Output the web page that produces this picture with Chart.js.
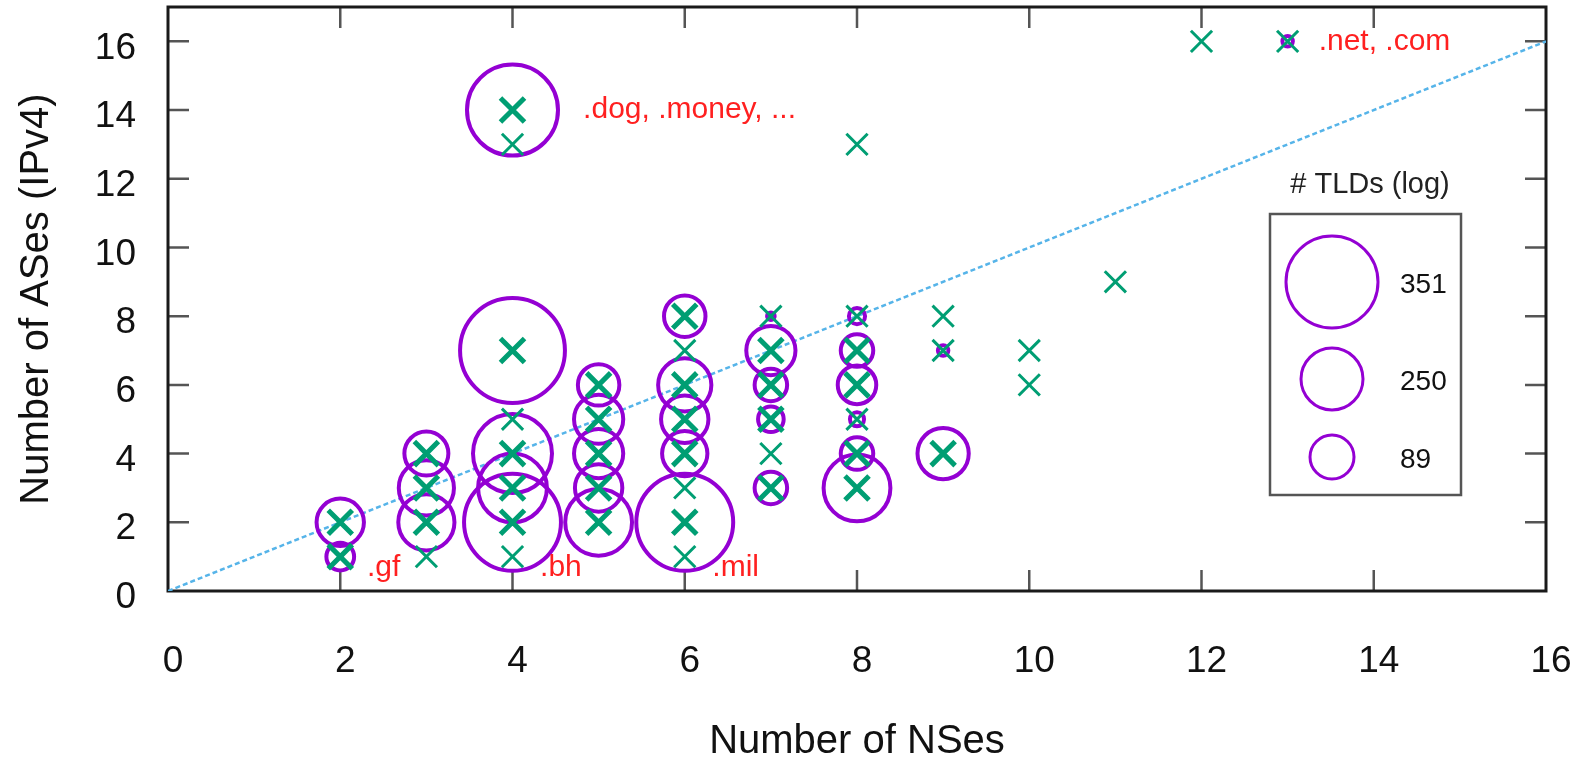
<!DOCTYPE html>
<html>
<head>
<meta charset="utf-8">
<script src="https://cdn.jsdelivr.net/npm/chart.js@4.4.0/dist/chart.umd.min.js"></script>
<style>
  html, body { margin: 0; padding: 0; background: #fff; }
</style>
</head>
<body>
<canvas id="chart" width="1573" height="758"></canvas>
<script>
// One entry per (NSes, ASes) pair, with the number of TLDs found there
const nsCount  = [2, 2,  3, 3, 3, 3,  4, 4, 4, 4, 4, 4, 4, 4,  5, 5, 5, 5, 5,
                  6, 6, 6, 6, 6, 6, 6, 6,  7, 7, 7, 7, 7, 7,  8, 8, 8, 8, 8, 8, 8,
                  9, 9, 9,  10, 10,  11,  12,  13];
const asCount  = [2, 1,  4, 3, 2, 1,  14, 13, 7, 5, 4, 3, 2, 1,  6, 5, 4, 3, 2,
                  8, 7, 6, 5, 4, 3, 2, 1,  8, 7, 6, 5, 4, 3,  13, 8, 7, 6, 5, 4, 3,
                  8, 7, 4,  7, 6,  9,  16,  16];
const tldCount = [108, 35,  89, 169, 179, 1,  347, 1, 406, 1, 303, 270, 371, 1,  77, 120, 120, 108, 264,
                  77, 1, 151, 108, 96, 1, 371, 1,  11, 120, 46, 31, 1, 46,  1, 18, 46, 65, 16, 46, 264,
                  1, 13, 135,  1, 1,  1,  1,  13];

const legendCounts = [351, 250, 89];

const notes = [
    { text: ".dog, .money, ...", x: 4.82, y: 14 },
    { text: ".net, .com", x: 13.36, y: 16 },
    { text: ".gf", x: 2.31, y: 0.67 },
    { text: ".bh", x: 4.32, y: 0.67 },
    { text: ".mil", x: 6.32, y: 0.68 }
];

const FONT = "'Liberation Sans', Arial, sans-serif";
const VERDE = "#009e73";
const MORADO = "#9400d3";

// circle radius for a TLD count (log scale, anchored on the legend sizes)
function radiusFor(n) {
    if (n <= 1) return 0;
    const a = [[Math.log(89), 22], [Math.log(250), 31], [Math.log(351), 46]];
    const l = Math.log(n);
    const i = l < a[1][0] ? 0 : 1;
    const [l0, r0] = a[i], [l1, r1] = a[i + 1];
    return Math.max(2, r0 + (l - l0) * (r1 - r0) / (l1 - l0));
}

const puntos = nsCount.map((x, i) => ({ x, y: asCount[i] }));
const burbujas = nsCount
    .map((x, i) => ({ x, y: asCount[i], r: radiusFor(tldCount[i]) }))
    .filter(p => p.r > 0);

// frame with inward ticks on all four sides
const marco = {
    id: "marco",
    beforeDatasetsDraw(chart) {
        const { ctx, chartArea: a, scales: { x, y } } = chart;
        const largo = 21;
        ctx.save();
        ctx.strokeStyle = "#555";
        ctx.lineWidth = 2.5;
        ctx.beginPath();
        x.ticks.forEach(t => {
            if (t.value <= x.min || t.value >= x.max) return;
            const px = x.getPixelForValue(t.value);
            ctx.moveTo(px, a.bottom); ctx.lineTo(px, a.bottom - largo);
            ctx.moveTo(px, a.top); ctx.lineTo(px, a.top + largo);
        });
        y.ticks.forEach(t => {
            if (t.value <= y.min) return;
            const py = y.getPixelForValue(t.value);
            ctx.moveTo(a.left, py); ctx.lineTo(a.left + largo, py);
            ctx.moveTo(a.right, py); ctx.lineTo(a.right - largo, py);
        });
        ctx.stroke();
        ctx.strokeStyle = "#1a1a1a";
        ctx.lineWidth = 3;
        ctx.strokeRect(a.left, a.top, a.right - a.left, a.bottom - a.top);
        ctx.restore();
    }
};

// red labels and the size legend
const extras = {
    id: "extras",
    afterDatasetsDraw(chart) {
        const { ctx, scales: { x, y } } = chart;
        ctx.save();
        ctx.font = "30px " + FONT;
        ctx.fillStyle = "#ff2020";
        ctx.textAlign = "left";
        ctx.textBaseline = "middle";
        notes.forEach(n => ctx.fillText(n.text, x.getPixelForValue(n.x), y.getPixelForValue(n.y)));

        ctx.font = "29px " + FONT;
        ctx.fillStyle = "#222";
        ctx.textAlign = "center";
        ctx.fillText("# TLDs (log)", 1370, 185);

        ctx.strokeStyle = "#555";
        ctx.lineWidth = 2.5;
        ctx.strokeRect(1270, 214, 191, 281);

        const cy = [282, 379, 457];
        ctx.textAlign = "left";
        ctx.font = "28px " + FONT;
        legendCounts.forEach((n, i) => {
            ctx.beginPath();
            ctx.arc(1332, cy[i], radiusFor(n), 0, Math.PI * 2);
            ctx.strokeStyle = MORADO;
            ctx.lineWidth = 3;
            ctx.stroke();
            ctx.fillStyle = "#111";
            ctx.fillText(String(n), 1400, cy[i] + 3);
        });
        ctx.restore();
    }
};

const tickFont = { family: FONT, size: 37, lineHeight: 1 };
const titleFont = { family: FONT, size: 40, lineHeight: 1 };

new Chart(document.getElementById("chart"), {
    type: "scatter",
    data: {
        datasets: [
            {
                type: "scatter",
                data: puntos,
                pointStyle: "crossRot",
                pointRadius: ctx => tldCount[ctx.dataIndex] >= 30 ? 17 : 15,
                pointBorderWidth: ctx => tldCount[ctx.dataIndex] >= 30 ? 5 : 3,
                pointBorderColor: VERDE,
                pointBackgroundColor: VERDE
            },
            {
                type: "bubble",
                data: burbujas,
                borderColor: MORADO,
                backgroundColor: "rgba(0,0,0,0)",
                borderWidth: 4
            },
            {
                type: "line",
                data: [{ x: 0, y: 0 }, { x: 16, y: 16 }],
                borderColor: "#56b4e9",
                borderWidth: 2.5,
                borderDash: [5, 3],
                pointRadius: 0
            }
        ]
    },
    options: {
        responsive: false,
        animation: false,
        events: [],
        layout: { autoPadding: false, padding: { top: 7, right: 27, left: 0, bottom: 0 } },
        plugins: { legend: { display: false }, tooltip: { enabled: false } },
        scales: {
            x: {
                type: "linear",
                min: 0,
                max: 16,
                grid: { display: false },
                border: { display: false },
                ticks: { stepSize: 2, padding: 44, labelOffset: 5, font: tickFont, color: "#111" },
                title: {
                    display: true,
                    text: "Number of NSes",
                    font: { family: FONT, size: 40, lineHeight: 0.8 },
                    color: "#111",
                    padding: { top: 0, bottom: 0 }
                },
                afterFit: s => { s.height = 167; s.paddingLeft = 0; s.paddingRight = 0; }
            },
            y: {
                type: "linear",
                min: 0,
                max: 17,
                grid: { display: false },
                border: { display: false },
                ticks: { stepSize: 2, includeBounds: false, padding: 24, labelOffset: 7, font: tickFont, color: "#111" },
                title: {
                    display: true,
                    text: "Number of ASes (IPv4)",
                    font: titleFont,
                    color: "#111",
                    padding: { top: 17, bottom: 0 }
                },
                afterFit: s => { s.width = 168; s.paddingTop = 0; s.paddingBottom = 0; }
            }
        }
    },
    plugins: [marco, extras]
});
</script>
</body>
</html>
